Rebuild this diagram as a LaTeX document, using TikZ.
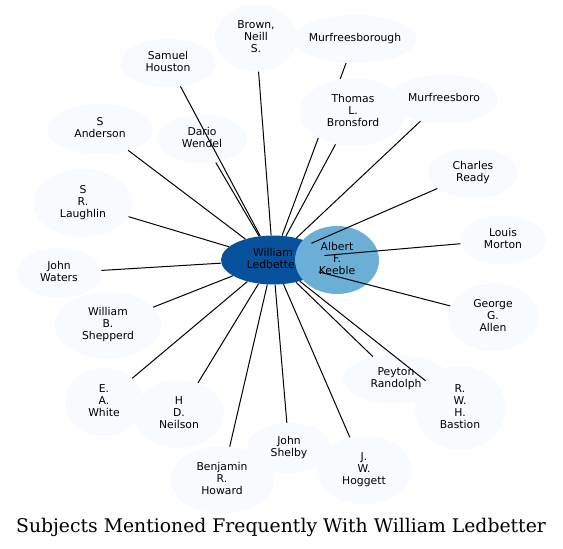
\documentclass[tikz,border=0pt]{standalone}
\usepackage{fontspec}
\setmainfont{DejaVu Sans}
\newfontfamily\titlefont{DejaVu Serif}
\usetikzlibrary{shapes.geometric}

\pgfdeclarelayer{front}
\pgfsetlayers{main,front}

\definecolor{pale}{HTML}{F7FBFF}
\definecolor{midblue}{HTML}{6BAED6}
\definecolor{deepblue}{HTML}{08519C}

% zero-width stacked label, so the ellipse keeps the size we give it
\newcommand{\nm}[1]{\makebox[0pt]{\begin{tabular}{@{}c@{}}#1\end{tabular}}}

\tikzset{
  subj/.style={ellipse, fill=pale, inner sep=0pt, font=\fontsize{10.8}{12}\selectfont},
  link/.style={line width=1pt}
}

\begin{document}
\begin{tikzpicture}[x=1pt, y=-1pt]
  \useasboundingbox (0,0) rectangle (563,549);
  % centre of the star
  \node[subj, fill=deepblue, minimum width=104, minimum height=49] (ledbetter) at (273,260) {\nm{William\\Ledbetter}};
  \node[subj, fill=midblue, minimum width=84, minimum height=68] (keeble) at (337,260) {\nm{Albert\\F.\\Keeble}};
  % subjects round it
  \node[subj, minimum width=82, minimum height=67] (brown) at (256,38) {\nm{Brown,\\Neill\\S.}};
  \node[subj, minimum width=124, minimum height=48] (murfborough) at (355,39) {\nm{Murfreesborough}};
  \node[subj, minimum width=96, minimum height=48] (houston) at (168,63) {\nm{Samuel\\Houston}};
  \node[subj, minimum width=106, minimum height=50] (anderson) at (100,129) {\nm{S\\Anderson}};
  \node[subj, minimum width=90, minimum height=49] (wendel) at (202,139) {\nm{Dario\\Wendel}};
  \node[subj, minimum width=108, minimum height=49] (murfboro) at (444,99) {\nm{Murfreesboro}};
  \node[subj, minimum width=90, minimum height=50] (ready) at (473,173) {\nm{Charles\\Ready}};
  \node[subj, minimum width=86, minimum height=49] (morton) at (503,240) {\nm{Louis\\Morton}};
  \node[subj, minimum width=90, minimum height=68] (allen) at (493,317) {\nm{George\\G.\\Allen}};
  \node[subj, minimum width=99, minimum height=68] (laughlin) at (83,203) {\nm{S\\R.\\Laughlin}};
  \node[subj, minimum width=85, minimum height=50] (waters) at (59,273) {\nm{John\\Waters}};
  \node[subj, minimum width=106, minimum height=67] (shepperd) at (108,325) {\nm{William\\B.\\Shepperd}};
  \node[subj, minimum width=78, minimum height=68] (white) at (104,402) {\nm{E.\\A.\\White}};
  \node[subj, minimum width=90, minimum height=68] (neilson) at (179,414) {\nm{H\\D.\\Neilson}};
  \node[subj, minimum width=104, minimum height=67] (howard) at (222,480) {\nm{Benjamin\\R.\\Howard}};
  \node[subj, minimum width=84, minimum height=50] (shelby) at (289,448) {\nm{John\\Shelby}};
  \node[subj, minimum width=95, minimum height=68] (hoggett) at (364,470) {\nm{J.\\W.\\Hoggett}};
  \node[subj, minimum width=106, minimum height=49] (randolph) at (396,379) {\nm{Peyton\\Randolph}};
  \node[subj, minimum width=90, minimum height=84] (bastion) at (460,408) {\nm{R.\\W.\\H.\\Bastion}};
  \begin{pgfonlayer}{front}
    \node[subj, minimum width=106, minimum height=68] (bronsford) at (353,112) {\nm{Thomas\\L.\\Bronsford}};
  \end{pgfonlayer}
  % spokes
  \foreach \s in {brown,murfborough,houston,anderson,wendel,bronsford,murfboro,ready,morton,allen,
                  laughlin,waters,shepperd,white,neilson,howard,shelby,hoggett,randolph,bastion}{
     \draw[link] (ledbetter) -- (\s);
  }
  % title
  \node[font=\titlefont\fontsize{18.8}{22}\selectfont] (title) at (281,527) {Subjects Mentioned Frequently With William Ledbetter};
\end{tikzpicture}
\end{document}
